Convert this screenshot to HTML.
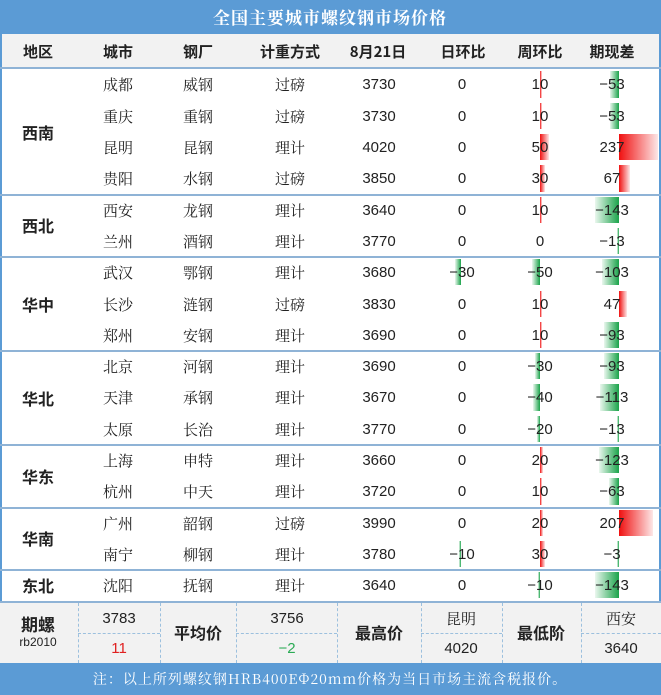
<!DOCTYPE html>
<html><head><meta charset="utf-8"><style>
*{margin:0;padding:0;box-sizing:border-box}
body{width:661px;height:695px;background:#fff;position:relative;overflow:hidden;font-family:"Liberation Sans","Noto Serif CJK SC",serif;color:#222}
.a{position:absolute}
.t{position:absolute;text-align:center;white-space:nowrap;transform:translateX(-50%);font-size:15px;line-height:31px}
.c{font-family:"Noto Serif CJK SC","WenQuanYi Zen Hei",serif;font-size:15px}
.h{font-weight:bold;font-family:"Noto Sans CJK SC",sans-serif;font-size:15px}
.bl{position:absolute;left:0;width:661px;height:2px;background:#8fb3d6}
.g{position:absolute;background:linear-gradient(to right,#eaf7ee,#1aa34a)}
.r{position:absolute;background:linear-gradient(to right,#f01010,#fde7e7)}
.dh{position:absolute;border-top:1px dashed #9cc0de}
.dv{position:absolute;border-left:1px dashed #9cc0de}
</style></head><body>
<div class="a" style="left:0;top:0;width:661px;height:34px;background:#5b9bd5"></div>
<div class="t c" style="left:330px;top:1px;color:#fff;font-size:17px;font-weight:bold;letter-spacing:1px">全国主要城市螺纹钢市场价格</div>
<div class="a" style="left:0;top:34px;width:661px;height:34px;background:#f2f2f2"></div>
<div class="a" style="left:0;top:34px;width:2px;height:568px;background:#5b9bd5"></div>
<div class="a" style="left:659px;top:34px;width:2px;height:568px;background:#5b9bd5"></div>
<div class="bl" style="top:67px"></div>
<div class="t h" style="left:38px;top:36px">地区</div>
<div class="t h" style="left:118px;top:36px">城市</div>
<div class="t h" style="left:198px;top:36px">钢厂</div>
<div class="t h" style="left:290px;top:36px">计重方式</div>
<div class="t h" style="left:378px;top:36px">8月21日</div>
<div class="t h" style="left:463px;top:36px">日环比</div>
<div class="t h" style="left:540px;top:36px">周环比</div>
<div class="t h" style="left:612px;top:36px">期现差</div>
<div id="rows"></div>
<div class="a" style="left:0;top:602px;width:661px;height:61px;background:#f2f2f2"></div>
<div class="bl" style="top:601px"></div>
<div class="dv" style="left:78px;top:603px;height:60px"></div>
<div class="dv" style="left:160px;top:603px;height:60px"></div>
<div class="dv" style="left:236px;top:603px;height:60px"></div>
<div class="dv" style="left:337px;top:603px;height:60px"></div>
<div class="dv" style="left:421px;top:603px;height:60px"></div>
<div class="dv" style="left:502px;top:603px;height:60px"></div>
<div class="dv" style="left:581px;top:603px;height:60px"></div>
<div class="dh" style="left:78px;top:633px;width:82px"></div>
<div class="dh" style="left:236px;top:633px;width:101px"></div>
<div class="dh" style="left:421px;top:633px;width:81px"></div>
<div class="dh" style="left:581px;top:633px;width:80px"></div>
<div class="t h" style="left:38px;top:608px;font-size:17px">期螺</div>
<div class="t" style="left:38px;top:627px;font-size:12px">rb2010</div>
<div class="t" style="left:119px;top:603px">3783</div>
<div class="t" style="left:119px;top:633px;color:#e02020">11</div>
<div class="t h" style="left:198px;top:617px;font-size:16px">平均价</div>
<div class="t" style="left:287px;top:603px">3756</div>
<div class="t" style="left:287px;top:633px;color:#2bab55">−2</div>
<div class="t h" style="left:379px;top:617px;font-size:16px">最高价</div>
<div class="t c" style="left:461px;top:603px">昆明</div>
<div class="t" style="left:461px;top:633px">4020</div>
<div class="t h" style="left:541px;top:617px;font-size:16px">最低阶</div>
<div class="t c" style="left:621px;top:603px">西安</div>
<div class="t" style="left:621px;top:633px">3640</div>
<div class="a" style="left:0;top:663px;width:661px;height:32px;background:#5b9bd5"></div>
<div class="t c" style="left:330px;top:665px;color:#fff;font-size:14px;line-height:28px;letter-spacing:1px">注：以上所列螺纹钢HRB400EΦ20mm价格为当日市场主流含税报价。</div>
<script>
var d=[["成都","威钢","过磅",3730,0,10,-53],["重庆","重钢","过磅",3730,0,10,-53],["昆明","昆钢","理计",4020,0,50,237],["贵阳","水钢","过磅",3850,0,30,67],
["西安","龙钢","理计",3640,0,10,-143],["兰州","酒钢","理计",3770,0,0,-13],
["武汉","鄂钢","理计",3680,-30,-50,-103],["长沙","涟钢","过磅",3830,0,10,47],["郑州","安钢","理计",3690,0,10,-93],
["北京","河钢","理计",3690,0,-30,-93],["天津","承钢","理计",3670,0,-40,-113],["太原","长治","理计",3770,0,-20,-13],
["上海","申特","理计",3660,0,20,-123],["杭州","中天","理计",3720,0,10,-63],
["广州","韶钢","过磅",3990,0,20,207],["南宁","柳钢","理计",3780,-10,30,-3],["沈阳","抚钢","理计",3640,0,-10,-143]];
var g=[["西南",0,4],["西北",4,2],["华中",6,3],["华北",9,3],["华东",12,2],["华南",14,2],["东北",16,1]];
var h="",R=31.3,T=69.4;
function bar(ax,v,y,s){if(v==0)return"";var w=Math.max(2,Math.abs(v)*s);
return '<div class="'+(v<0?'g':'r')+'" style="left:'+(v<0?ax-w:ax)+'px;top:'+(y+2)+'px;width:'+w+'px;height:'+(R-5)+'px"></div>';}
d.forEach(function(r,i){var y=T+i*R;
h+=bar(461,r[4],y,0.2)+bar(540,r[5],y,0.17)+bar(619,r[6],y,0.165);
h+='<div class="t c" style="left:118px;top:'+y+'px">'+r[0]+'</div><div class="t c" style="left:198px;top:'+y+'px">'+r[1]+'</div><div class="t c" style="left:290px;top:'+y+'px">'+r[2]+'</div><div class="t" style="left:379px;top:'+y+'px">'+r[3]+'</div><div class="t" style="left:462px;top:'+y+'px">'+(r[4]<0?'−'+(-r[4]):r[4])+'</div><div class="t" style="left:540px;top:'+y+'px">'+(r[5]<0?'−'+(-r[5]):r[5])+'</div><div class="t" style="left:612px;top:'+y+'px">'+(r[6]<0?'−'+(-r[6]):r[6])+'</div>';});
g.forEach(function(q){var y=T+q[1]*R;h+='<div class="t h" style="left:38px;top:'+(y+(q[2]*R-31)/2)+'px;font-size:16px">'+q[0]+'</div>';
if(q[1]+q[2]<17)h+='<div class="bl" style="top:'+(T+(q[1]+q[2])*R-1)+'px"></div>';});
document.getElementById("rows").innerHTML=h;
</script>
</body></html>
